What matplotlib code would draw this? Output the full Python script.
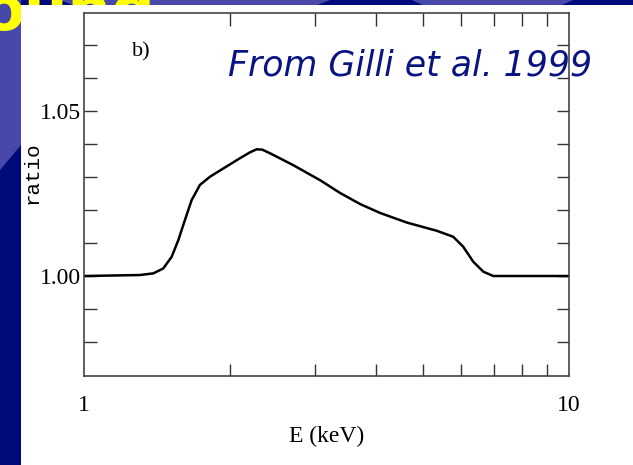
import matplotlib
matplotlib.use("Agg")
import matplotlib.pyplot as plt
from matplotlib.patches import Rectangle, Polygon
from matplotlib.ticker import FixedLocator, NullFormatter, FixedFormatter

# Data
energy = [1.0, 1.305, 1.39, 1.457, 1.516, 1.565, 1.615, 1.667, 1.734, 1.819, 1.938, 2.097,
          2.20, 2.27, 2.33, 2.418, 2.70, 3.07, 3.37, 3.71, 4.08, 4.63, 4.93, 5.34, 5.77,
          6.05, 6.35, 6.66, 6.98, 10.0]
ratio = [1.0, 1.0003, 1.0008, 1.0023, 1.0058, 1.0109, 1.017, 1.023, 1.0276, 1.0301, 1.0326, 1.0357,
         1.0375, 1.0384, 1.0383, 1.0372, 1.0336, 1.029, 1.0252, 1.0218, 1.0191, 1.0162, 1.0151, 1.0137, 1.0119,
         1.0089, 1.0043, 1.0013, 1.0, 1.0]
x_ticks = [1, 10]
x_ticklabels = ["1", "10"]
y_ticks = [1.00, 1.05]
y_ticklabels = ["1.00", "1.05"]

W, H = 633, 465
fig = plt.figure(figsize=(W / 100, H / 100), dpi=100)
fig.patch.set_facecolor("white")

def fx(px):
    return px / W

def fy(py):
    return 1 - py / H

navy = "#000A78"
lightblue = "#4848AA"
# slide background: top band and left stripe
fig.add_artist(Rectangle((0, fy(12)), 1, 12 / H, transform=fig.transFigure,
                         facecolor=navy, edgecolor="none", zorder=1))
fig.add_artist(Polygon([(fx(412), 1), (fx(573), 1), (fx(560), fy(6)), (fx(425), fy(6))],
                       closed=True, transform=fig.transFigure,
                       facecolor=lightblue, edgecolor="none", zorder=1.5))
fig.add_artist(Rectangle((0, 0), 21 / W, 1, transform=fig.transFigure,
                         facecolor=navy, edgecolor="none", zorder=1))
fig.add_artist(Polygon([(0, 1), (fx(21), 1), (fx(21), fy(145)), (0, fy(170))],
                       closed=True, transform=fig.transFigure,
                       facecolor=lightblue, edgecolor="none", zorder=1.5))
fig.add_artist(Polygon([(fx(60), 1), (fx(330), 1), (fx(300), fy(12)), (fx(90), fy(12))],
                       closed=True, transform=fig.transFigure,
                       facecolor=lightblue, edgecolor="none", zorder=1.5))
# yellow slide title, mostly hidden behind the white picture
fig.text(fx(-18), fy(-16), "oung", color="#FFFF00", fontsize=44, fontweight="bold",
         family="DejaVu Sans", ha="left", va="top", zorder=2)
# white picture area
fig.add_artist(Rectangle((fx(21), 0), 1 - fx(21), fy(5), transform=fig.transFigure,
                         facecolor="white", edgecolor="none", zorder=3))

ax = fig.add_axes([fx(84), fy(376), fx(569) - fx(84), fy(13) - fy(376)])
ax.set_zorder(10)
ax.patch.set_alpha(0)
ax.plot(energy, ratio, color="black", lw=1.8)
ax.set_xscale("log")
ax.set_xlim(1, 10)
ax.set_ylim(0.9697, 1.0797)

ax.xaxis.set_major_locator(FixedLocator(x_ticks))
ax.xaxis.set_major_formatter(FixedFormatter(x_ticklabels))
ax.xaxis.set_minor_locator(FixedLocator([2, 3, 4, 5, 6, 7, 8, 9]))
ax.xaxis.set_minor_formatter(NullFormatter())
ax.yaxis.set_major_locator(FixedLocator(y_ticks))
ax.yaxis.set_major_formatter(FixedFormatter(y_ticklabels))
ax.yaxis.set_minor_locator(FixedLocator([0.98, 0.99, 1.01, 1.02, 1.03, 1.04, 1.06, 1.07]))

ax.tick_params(which="both", direction="in", top=True, right=True, length=9,
               width=1, color="#333333")
ax.tick_params(axis="x", which="major", length=0, pad=14)
ax.tick_params(axis="y", which="major", pad=2)
for lab in ax.get_xticklabels() + ax.get_yticklabels():
    lab.set_family("Liberation Serif")
    lab.set_fontsize(17)
for sp in ax.spines.values():
    sp.set_color("#444444")
    sp.set_linewidth(1.2)

ax.set_xlabel("E (keV)", family="Liberation Serif", fontsize=17, labelpad=7)
fig.text(fx(32), fy(173), "ratio", family="Liberation Mono", fontsize=15,
         rotation=90, ha="center", va="center", zorder=11)
fig.text(fx(141), fy(52), "b)", family="Liberation Serif", fontsize=16,
         ha="center", va="center", zorder=11)
fig.text(fx(410), fy(66), "From Gilli et al. 1999", color="#0A1480",
         family="DejaVu Sans", style="italic", fontsize=25,
         ha="center", va="center", zorder=11)

fig.savefig("out.png", dpi=100)
